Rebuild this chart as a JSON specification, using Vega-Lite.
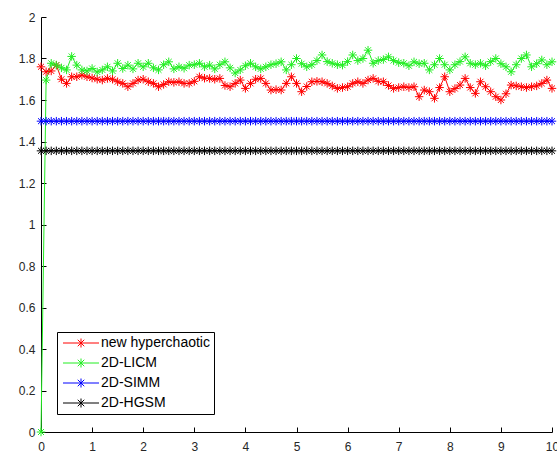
{
"$schema": "https://vega.github.io/schema/vega-lite/v6.json",
"width": 511, "height": 415,
"autosize": {"type": "none"},
"padding": {"left": 41, "top": 17, "right": 5, "bottom": 21},
"background": "white",
"config": {
 "view": {"stroke": null},
 "axis": {"domainColor": "#000000", "domainWidth": 1, "tickColor": "#000000", "tickSize": -5, "labelFont": "Liberation Sans", "labelFontSize": 12, "labelColor": "#262626", "grid": false, "title": null},
 "legend": {"orient": "none", "legendX": 16, "legendY": 315, "padding": 4, "strokeColor": "#000000", "fillColor": "#ffffff", "labelFont": "Liberation Sans", "labelFontSize": 14, "labelColor": "#000000", "rowPadding": 6, "symbolStrokeWidth": 1, "symbolOffset": 13, "labelOffset": 13, "symbolFillColor": "transparent", "cornerRadius": 0, "labelLimit": 300}
},
"data": {"values": [
{"x":0,"series":"new hyperchaotic","y":1.76},{"x":0.1,"series":"new hyperchaotic","y":1.736},{"x":0.2,"series":"new hyperchaotic","y":1.74},{"x":0.3,"series":"new hyperchaotic","y":1.768},{"x":0.4,"series":"new hyperchaotic","y":1.7},{"x":0.5,"series":"new hyperchaotic","y":1.68},{"x":0.6,"series":"new hyperchaotic","y":1.712},{"x":0.7,"series":"new hyperchaotic","y":1.712},{"x":0.8,"series":"new hyperchaotic","y":1.72},{"x":0.9,"series":"new hyperchaotic","y":1.712},
{"x":1,"series":"new hyperchaotic","y":1.706},{"x":1.1,"series":"new hyperchaotic","y":1.7},{"x":1.2,"series":"new hyperchaotic","y":1.696},{"x":1.3,"series":"new hyperchaotic","y":1.704},{"x":1.4,"series":"new hyperchaotic","y":1.7},{"x":1.5,"series":"new hyperchaotic","y":1.688},{"x":1.6,"series":"new hyperchaotic","y":1.68},{"x":1.7,"series":"new hyperchaotic","y":1.664},{"x":1.8,"series":"new hyperchaotic","y":1.68},{"x":1.9,"series":"new hyperchaotic","y":1.696},
{"x":2,"series":"new hyperchaotic","y":1.7},{"x":2.1,"series":"new hyperchaotic","y":1.688},{"x":2.2,"series":"new hyperchaotic","y":1.68},{"x":2.3,"series":"new hyperchaotic","y":1.664},{"x":2.4,"series":"new hyperchaotic","y":1.675},{"x":2.5,"series":"new hyperchaotic","y":1.688},{"x":2.6,"series":"new hyperchaotic","y":1.685},{"x":2.7,"series":"new hyperchaotic","y":1.688},{"x":2.8,"series":"new hyperchaotic","y":1.68},{"x":2.9,"series":"new hyperchaotic","y":1.68},
{"x":3,"series":"new hyperchaotic","y":1.69},{"x":3.1,"series":"new hyperchaotic","y":1.712},{"x":3.2,"series":"new hyperchaotic","y":1.705},{"x":3.3,"series":"new hyperchaotic","y":1.704},{"x":3.4,"series":"new hyperchaotic","y":1.7},{"x":3.5,"series":"new hyperchaotic","y":1.704},{"x":3.6,"series":"new hyperchaotic","y":1.67},{"x":3.7,"series":"new hyperchaotic","y":1.664},{"x":3.8,"series":"new hyperchaotic","y":1.68},{"x":3.9,"series":"new hyperchaotic","y":1.696},
{"x":4,"series":"new hyperchaotic","y":1.656},{"x":4.1,"series":"new hyperchaotic","y":1.68},{"x":4.2,"series":"new hyperchaotic","y":1.7},{"x":4.3,"series":"new hyperchaotic","y":1.704},{"x":4.4,"series":"new hyperchaotic","y":1.68},{"x":4.5,"series":"new hyperchaotic","y":1.648},{"x":4.6,"series":"new hyperchaotic","y":1.65},{"x":4.7,"series":"new hyperchaotic","y":1.648},{"x":4.8,"series":"new hyperchaotic","y":1.68},{"x":4.9,"series":"new hyperchaotic","y":1.712},
{"x":5,"series":"new hyperchaotic","y":1.68},{"x":5.1,"series":"new hyperchaotic","y":1.64},{"x":5.2,"series":"new hyperchaotic","y":1.665},{"x":5.3,"series":"new hyperchaotic","y":1.688},{"x":5.4,"series":"new hyperchaotic","y":1.69},{"x":5.5,"series":"new hyperchaotic","y":1.688},{"x":5.6,"series":"new hyperchaotic","y":1.68},{"x":5.7,"series":"new hyperchaotic","y":1.668},{"x":5.8,"series":"new hyperchaotic","y":1.656},{"x":5.9,"series":"new hyperchaotic","y":1.66},
{"x":6,"series":"new hyperchaotic","y":1.664},{"x":6.1,"series":"new hyperchaotic","y":1.68},{"x":6.2,"series":"new hyperchaotic","y":1.688},{"x":6.3,"series":"new hyperchaotic","y":1.68},{"x":6.4,"series":"new hyperchaotic","y":1.696},{"x":6.5,"series":"new hyperchaotic","y":1.704},{"x":6.6,"series":"new hyperchaotic","y":1.69},{"x":6.7,"series":"new hyperchaotic","y":1.688},{"x":6.8,"series":"new hyperchaotic","y":1.67},{"x":6.9,"series":"new hyperchaotic","y":1.656},
{"x":7,"series":"new hyperchaotic","y":1.66},{"x":7.1,"series":"new hyperchaotic","y":1.664},{"x":7.2,"series":"new hyperchaotic","y":1.66},{"x":7.3,"series":"new hyperchaotic","y":1.664},{"x":7.4,"series":"new hyperchaotic","y":1.616},{"x":7.5,"series":"new hyperchaotic","y":1.648},{"x":7.6,"series":"new hyperchaotic","y":1.64},{"x":7.7,"series":"new hyperchaotic","y":1.608},{"x":7.8,"series":"new hyperchaotic","y":1.66},{"x":7.9,"series":"new hyperchaotic","y":1.712},
{"x":8,"series":"new hyperchaotic","y":1.64},{"x":8.1,"series":"new hyperchaotic","y":1.655},{"x":8.2,"series":"new hyperchaotic","y":1.672},{"x":8.3,"series":"new hyperchaotic","y":1.704},{"x":8.4,"series":"new hyperchaotic","y":1.66},{"x":8.5,"series":"new hyperchaotic","y":1.632},{"x":8.6,"series":"new hyperchaotic","y":1.688},{"x":8.7,"series":"new hyperchaotic","y":1.664},{"x":8.8,"series":"new hyperchaotic","y":1.64},{"x":8.9,"series":"new hyperchaotic","y":1.616},
{"x":9,"series":"new hyperchaotic","y":1.6},{"x":9.1,"series":"new hyperchaotic","y":1.63},{"x":9.2,"series":"new hyperchaotic","y":1.672},{"x":9.3,"series":"new hyperchaotic","y":1.668},{"x":9.4,"series":"new hyperchaotic","y":1.664},{"x":9.5,"series":"new hyperchaotic","y":1.66},{"x":9.6,"series":"new hyperchaotic","y":1.664},{"x":9.7,"series":"new hyperchaotic","y":1.668},{"x":9.8,"series":"new hyperchaotic","y":1.68},{"x":9.9,"series":"new hyperchaotic","y":1.696},{"x":10,"series":"new hyperchaotic","y":1.656},
{"x":0,"series":"2D-LICM","y":0},{"x":0.1,"series":"2D-LICM","y":1.696},{"x":0.2,"series":"2D-LICM","y":1.777},{"x":0.3,"series":"2D-LICM","y":1.768},{"x":0.4,"series":"2D-LICM","y":1.755},{"x":0.5,"series":"2D-LICM","y":1.745},{"x":0.6,"series":"2D-LICM","y":1.81},{"x":0.7,"series":"2D-LICM","y":1.768},{"x":0.8,"series":"2D-LICM","y":1.745},{"x":0.9,"series":"2D-LICM","y":1.74},
{"x":1,"series":"2D-LICM","y":1.752},{"x":1.1,"series":"2D-LICM","y":1.735},{"x":1.2,"series":"2D-LICM","y":1.745},{"x":1.3,"series":"2D-LICM","y":1.76},{"x":1.4,"series":"2D-LICM","y":1.74},{"x":1.5,"series":"2D-LICM","y":1.777},{"x":1.6,"series":"2D-LICM","y":1.752},{"x":1.7,"series":"2D-LICM","y":1.768},{"x":1.8,"series":"2D-LICM","y":1.75},{"x":1.9,"series":"2D-LICM","y":1.777},
{"x":2,"series":"2D-LICM","y":1.76},{"x":2.1,"series":"2D-LICM","y":1.777},{"x":2.2,"series":"2D-LICM","y":1.755},{"x":2.3,"series":"2D-LICM","y":1.745},{"x":2.4,"series":"2D-LICM","y":1.77},{"x":2.5,"series":"2D-LICM","y":1.784},{"x":2.6,"series":"2D-LICM","y":1.75},{"x":2.7,"series":"2D-LICM","y":1.76},{"x":2.8,"series":"2D-LICM","y":1.753},{"x":2.9,"series":"2D-LICM","y":1.768},
{"x":3,"series":"2D-LICM","y":1.77},{"x":3.1,"series":"2D-LICM","y":1.777},{"x":3.2,"series":"2D-LICM","y":1.76},{"x":3.3,"series":"2D-LICM","y":1.768},{"x":3.4,"series":"2D-LICM","y":1.75},{"x":3.5,"series":"2D-LICM","y":1.77},{"x":3.6,"series":"2D-LICM","y":1.784},{"x":3.7,"series":"2D-LICM","y":1.755},{"x":3.8,"series":"2D-LICM","y":1.73},{"x":3.9,"series":"2D-LICM","y":1.745},
{"x":4,"series":"2D-LICM","y":1.765},{"x":4.1,"series":"2D-LICM","y":1.777},{"x":4.2,"series":"2D-LICM","y":1.76},{"x":4.3,"series":"2D-LICM","y":1.75},{"x":4.4,"series":"2D-LICM","y":1.76},{"x":4.5,"series":"2D-LICM","y":1.77},{"x":4.6,"series":"2D-LICM","y":1.775},{"x":4.7,"series":"2D-LICM","y":1.784},{"x":4.8,"series":"2D-LICM","y":1.745},{"x":4.9,"series":"2D-LICM","y":1.77},
{"x":5,"series":"2D-LICM","y":1.8},{"x":5.1,"series":"2D-LICM","y":1.775},{"x":5.2,"series":"2D-LICM","y":1.76},{"x":5.3,"series":"2D-LICM","y":1.77},{"x":5.4,"series":"2D-LICM","y":1.79},{"x":5.5,"series":"2D-LICM","y":1.817},{"x":5.6,"series":"2D-LICM","y":1.785},{"x":5.7,"series":"2D-LICM","y":1.777},{"x":5.8,"series":"2D-LICM","y":1.77},{"x":5.9,"series":"2D-LICM","y":1.768},
{"x":6,"series":"2D-LICM","y":1.785},{"x":6.1,"series":"2D-LICM","y":1.817},{"x":6.2,"series":"2D-LICM","y":1.79},{"x":6.3,"series":"2D-LICM","y":1.8},{"x":6.4,"series":"2D-LICM","y":1.84},{"x":6.5,"series":"2D-LICM","y":1.777},{"x":6.6,"series":"2D-LICM","y":1.79},{"x":6.7,"series":"2D-LICM","y":1.795},{"x":6.8,"series":"2D-LICM","y":1.808},{"x":6.9,"series":"2D-LICM","y":1.79},
{"x":7,"series":"2D-LICM","y":1.78},{"x":7.1,"series":"2D-LICM","y":1.777},{"x":7.2,"series":"2D-LICM","y":1.765},{"x":7.3,"series":"2D-LICM","y":1.784},{"x":7.4,"series":"2D-LICM","y":1.775},{"x":7.5,"series":"2D-LICM","y":1.777},{"x":7.6,"series":"2D-LICM","y":1.745},{"x":7.7,"series":"2D-LICM","y":1.77},{"x":7.8,"series":"2D-LICM","y":1.8},{"x":7.9,"series":"2D-LICM","y":1.77},
{"x":8,"series":"2D-LICM","y":1.745},{"x":8.1,"series":"2D-LICM","y":1.77},{"x":8.2,"series":"2D-LICM","y":1.785},{"x":8.3,"series":"2D-LICM","y":1.808},{"x":8.4,"series":"2D-LICM","y":1.777},{"x":8.5,"series":"2D-LICM","y":1.77},{"x":8.6,"series":"2D-LICM","y":1.777},{"x":8.7,"series":"2D-LICM","y":1.765},{"x":8.8,"series":"2D-LICM","y":1.785},{"x":8.9,"series":"2D-LICM","y":1.8},
{"x":9,"series":"2D-LICM","y":1.775},{"x":9.1,"series":"2D-LICM","y":1.76},{"x":9.2,"series":"2D-LICM","y":1.736},{"x":9.3,"series":"2D-LICM","y":1.77},{"x":9.4,"series":"2D-LICM","y":1.8},{"x":9.5,"series":"2D-LICM","y":1.817},{"x":9.6,"series":"2D-LICM","y":1.76},{"x":9.7,"series":"2D-LICM","y":1.775},{"x":9.8,"series":"2D-LICM","y":1.793},{"x":9.9,"series":"2D-LICM","y":1.77},{"x":10,"series":"2D-LICM","y":1.784},
{"x":0,"series":"2D-SIMM","y":1.498},{"x":0.1,"series":"2D-SIMM","y":1.498},{"x":0.2,"series":"2D-SIMM","y":1.498},{"x":0.3,"series":"2D-SIMM","y":1.498},{"x":0.4,"series":"2D-SIMM","y":1.498},{"x":0.5,"series":"2D-SIMM","y":1.498},{"x":0.6,"series":"2D-SIMM","y":1.498},{"x":0.7,"series":"2D-SIMM","y":1.498},{"x":0.8,"series":"2D-SIMM","y":1.498},{"x":0.9,"series":"2D-SIMM","y":1.498},
{"x":1,"series":"2D-SIMM","y":1.498},{"x":1.1,"series":"2D-SIMM","y":1.498},{"x":1.2,"series":"2D-SIMM","y":1.498},{"x":1.3,"series":"2D-SIMM","y":1.498},{"x":1.4,"series":"2D-SIMM","y":1.498},{"x":1.5,"series":"2D-SIMM","y":1.498},{"x":1.6,"series":"2D-SIMM","y":1.498},{"x":1.7,"series":"2D-SIMM","y":1.498},{"x":1.8,"series":"2D-SIMM","y":1.498},{"x":1.9,"series":"2D-SIMM","y":1.498},
{"x":2,"series":"2D-SIMM","y":1.498},{"x":2.1,"series":"2D-SIMM","y":1.498},{"x":2.2,"series":"2D-SIMM","y":1.498},{"x":2.3,"series":"2D-SIMM","y":1.498},{"x":2.4,"series":"2D-SIMM","y":1.498},{"x":2.5,"series":"2D-SIMM","y":1.498},{"x":2.6,"series":"2D-SIMM","y":1.498},{"x":2.7,"series":"2D-SIMM","y":1.498},{"x":2.8,"series":"2D-SIMM","y":1.498},{"x":2.9,"series":"2D-SIMM","y":1.498},
{"x":3,"series":"2D-SIMM","y":1.498},{"x":3.1,"series":"2D-SIMM","y":1.498},{"x":3.2,"series":"2D-SIMM","y":1.498},{"x":3.3,"series":"2D-SIMM","y":1.498},{"x":3.4,"series":"2D-SIMM","y":1.498},{"x":3.5,"series":"2D-SIMM","y":1.498},{"x":3.6,"series":"2D-SIMM","y":1.498},{"x":3.7,"series":"2D-SIMM","y":1.498},{"x":3.8,"series":"2D-SIMM","y":1.498},{"x":3.9,"series":"2D-SIMM","y":1.498},
{"x":4,"series":"2D-SIMM","y":1.498},{"x":4.1,"series":"2D-SIMM","y":1.498},{"x":4.2,"series":"2D-SIMM","y":1.498},{"x":4.3,"series":"2D-SIMM","y":1.498},{"x":4.4,"series":"2D-SIMM","y":1.498},{"x":4.5,"series":"2D-SIMM","y":1.498},{"x":4.6,"series":"2D-SIMM","y":1.498},{"x":4.7,"series":"2D-SIMM","y":1.498},{"x":4.8,"series":"2D-SIMM","y":1.498},{"x":4.9,"series":"2D-SIMM","y":1.498},
{"x":5,"series":"2D-SIMM","y":1.498},{"x":5.1,"series":"2D-SIMM","y":1.498},{"x":5.2,"series":"2D-SIMM","y":1.498},{"x":5.3,"series":"2D-SIMM","y":1.498},{"x":5.4,"series":"2D-SIMM","y":1.498},{"x":5.5,"series":"2D-SIMM","y":1.498},{"x":5.6,"series":"2D-SIMM","y":1.498},{"x":5.7,"series":"2D-SIMM","y":1.498},{"x":5.8,"series":"2D-SIMM","y":1.498},{"x":5.9,"series":"2D-SIMM","y":1.498},
{"x":6,"series":"2D-SIMM","y":1.498},{"x":6.1,"series":"2D-SIMM","y":1.498},{"x":6.2,"series":"2D-SIMM","y":1.498},{"x":6.3,"series":"2D-SIMM","y":1.498},{"x":6.4,"series":"2D-SIMM","y":1.498},{"x":6.5,"series":"2D-SIMM","y":1.498},{"x":6.6,"series":"2D-SIMM","y":1.498},{"x":6.7,"series":"2D-SIMM","y":1.498},{"x":6.8,"series":"2D-SIMM","y":1.498},{"x":6.9,"series":"2D-SIMM","y":1.498},
{"x":7,"series":"2D-SIMM","y":1.498},{"x":7.1,"series":"2D-SIMM","y":1.498},{"x":7.2,"series":"2D-SIMM","y":1.498},{"x":7.3,"series":"2D-SIMM","y":1.498},{"x":7.4,"series":"2D-SIMM","y":1.498},{"x":7.5,"series":"2D-SIMM","y":1.498},{"x":7.6,"series":"2D-SIMM","y":1.498},{"x":7.7,"series":"2D-SIMM","y":1.498},{"x":7.8,"series":"2D-SIMM","y":1.498},{"x":7.9,"series":"2D-SIMM","y":1.498},
{"x":8,"series":"2D-SIMM","y":1.498},{"x":8.1,"series":"2D-SIMM","y":1.498},{"x":8.2,"series":"2D-SIMM","y":1.498},{"x":8.3,"series":"2D-SIMM","y":1.498},{"x":8.4,"series":"2D-SIMM","y":1.498},{"x":8.5,"series":"2D-SIMM","y":1.498},{"x":8.6,"series":"2D-SIMM","y":1.498},{"x":8.7,"series":"2D-SIMM","y":1.498},{"x":8.8,"series":"2D-SIMM","y":1.498},{"x":8.9,"series":"2D-SIMM","y":1.498},
{"x":9,"series":"2D-SIMM","y":1.498},{"x":9.1,"series":"2D-SIMM","y":1.498},{"x":9.2,"series":"2D-SIMM","y":1.498},{"x":9.3,"series":"2D-SIMM","y":1.498},{"x":9.4,"series":"2D-SIMM","y":1.498},{"x":9.5,"series":"2D-SIMM","y":1.498},{"x":9.6,"series":"2D-SIMM","y":1.498},{"x":9.7,"series":"2D-SIMM","y":1.498},{"x":9.8,"series":"2D-SIMM","y":1.498},{"x":9.9,"series":"2D-SIMM","y":1.498},{"x":10,"series":"2D-SIMM","y":1.498},
{"x":0,"series":"2D-HGSM","y":1.355},{"x":0.1,"series":"2D-HGSM","y":1.355},{"x":0.2,"series":"2D-HGSM","y":1.355},{"x":0.3,"series":"2D-HGSM","y":1.355},{"x":0.4,"series":"2D-HGSM","y":1.355},{"x":0.5,"series":"2D-HGSM","y":1.355},{"x":0.6,"series":"2D-HGSM","y":1.355},{"x":0.7,"series":"2D-HGSM","y":1.355},{"x":0.8,"series":"2D-HGSM","y":1.355},{"x":0.9,"series":"2D-HGSM","y":1.355},
{"x":1,"series":"2D-HGSM","y":1.355},{"x":1.1,"series":"2D-HGSM","y":1.355},{"x":1.2,"series":"2D-HGSM","y":1.355},{"x":1.3,"series":"2D-HGSM","y":1.355},{"x":1.4,"series":"2D-HGSM","y":1.355},{"x":1.5,"series":"2D-HGSM","y":1.355},{"x":1.6,"series":"2D-HGSM","y":1.355},{"x":1.7,"series":"2D-HGSM","y":1.355},{"x":1.8,"series":"2D-HGSM","y":1.355},{"x":1.9,"series":"2D-HGSM","y":1.355},
{"x":2,"series":"2D-HGSM","y":1.355},{"x":2.1,"series":"2D-HGSM","y":1.355},{"x":2.2,"series":"2D-HGSM","y":1.355},{"x":2.3,"series":"2D-HGSM","y":1.355},{"x":2.4,"series":"2D-HGSM","y":1.355},{"x":2.5,"series":"2D-HGSM","y":1.355},{"x":2.6,"series":"2D-HGSM","y":1.355},{"x":2.7,"series":"2D-HGSM","y":1.355},{"x":2.8,"series":"2D-HGSM","y":1.355},{"x":2.9,"series":"2D-HGSM","y":1.355},
{"x":3,"series":"2D-HGSM","y":1.355},{"x":3.1,"series":"2D-HGSM","y":1.355},{"x":3.2,"series":"2D-HGSM","y":1.355},{"x":3.3,"series":"2D-HGSM","y":1.355},{"x":3.4,"series":"2D-HGSM","y":1.355},{"x":3.5,"series":"2D-HGSM","y":1.355},{"x":3.6,"series":"2D-HGSM","y":1.355},{"x":3.7,"series":"2D-HGSM","y":1.355},{"x":3.8,"series":"2D-HGSM","y":1.355},{"x":3.9,"series":"2D-HGSM","y":1.355},
{"x":4,"series":"2D-HGSM","y":1.355},{"x":4.1,"series":"2D-HGSM","y":1.355},{"x":4.2,"series":"2D-HGSM","y":1.355},{"x":4.3,"series":"2D-HGSM","y":1.355},{"x":4.4,"series":"2D-HGSM","y":1.355},{"x":4.5,"series":"2D-HGSM","y":1.355},{"x":4.6,"series":"2D-HGSM","y":1.355},{"x":4.7,"series":"2D-HGSM","y":1.355},{"x":4.8,"series":"2D-HGSM","y":1.355},{"x":4.9,"series":"2D-HGSM","y":1.355},
{"x":5,"series":"2D-HGSM","y":1.355},{"x":5.1,"series":"2D-HGSM","y":1.355},{"x":5.2,"series":"2D-HGSM","y":1.355},{"x":5.3,"series":"2D-HGSM","y":1.355},{"x":5.4,"series":"2D-HGSM","y":1.355},{"x":5.5,"series":"2D-HGSM","y":1.355},{"x":5.6,"series":"2D-HGSM","y":1.355},{"x":5.7,"series":"2D-HGSM","y":1.355},{"x":5.8,"series":"2D-HGSM","y":1.355},{"x":5.9,"series":"2D-HGSM","y":1.355},
{"x":6,"series":"2D-HGSM","y":1.355},{"x":6.1,"series":"2D-HGSM","y":1.355},{"x":6.2,"series":"2D-HGSM","y":1.355},{"x":6.3,"series":"2D-HGSM","y":1.355},{"x":6.4,"series":"2D-HGSM","y":1.355},{"x":6.5,"series":"2D-HGSM","y":1.355},{"x":6.6,"series":"2D-HGSM","y":1.355},{"x":6.7,"series":"2D-HGSM","y":1.355},{"x":6.8,"series":"2D-HGSM","y":1.355},{"x":6.9,"series":"2D-HGSM","y":1.355},
{"x":7,"series":"2D-HGSM","y":1.355},{"x":7.1,"series":"2D-HGSM","y":1.355},{"x":7.2,"series":"2D-HGSM","y":1.355},{"x":7.3,"series":"2D-HGSM","y":1.355},{"x":7.4,"series":"2D-HGSM","y":1.355},{"x":7.5,"series":"2D-HGSM","y":1.355},{"x":7.6,"series":"2D-HGSM","y":1.355},{"x":7.7,"series":"2D-HGSM","y":1.355},{"x":7.8,"series":"2D-HGSM","y":1.355},{"x":7.9,"series":"2D-HGSM","y":1.355},
{"x":8,"series":"2D-HGSM","y":1.355},{"x":8.1,"series":"2D-HGSM","y":1.355},{"x":8.2,"series":"2D-HGSM","y":1.355},{"x":8.3,"series":"2D-HGSM","y":1.355},{"x":8.4,"series":"2D-HGSM","y":1.355},{"x":8.5,"series":"2D-HGSM","y":1.355},{"x":8.6,"series":"2D-HGSM","y":1.355},{"x":8.7,"series":"2D-HGSM","y":1.355},{"x":8.8,"series":"2D-HGSM","y":1.355},{"x":8.9,"series":"2D-HGSM","y":1.355},
{"x":9,"series":"2D-HGSM","y":1.355},{"x":9.1,"series":"2D-HGSM","y":1.355},{"x":9.2,"series":"2D-HGSM","y":1.355},{"x":9.3,"series":"2D-HGSM","y":1.355},{"x":9.4,"series":"2D-HGSM","y":1.355},{"x":9.5,"series":"2D-HGSM","y":1.355},{"x":9.6,"series":"2D-HGSM","y":1.355},{"x":9.7,"series":"2D-HGSM","y":1.355},{"x":9.8,"series":"2D-HGSM","y":1.355},{"x":9.9,"series":"2D-HGSM","y":1.355},{"x":10,"series":"2D-HGSM","y":1.355}
]},
"encoding": {
 "x": {"field": "x", "type": "quantitative", "scale": {"domain": [0, 10], "nice": false, "zero": false}, "axis": {"values": [0,1,2,3,4,5,6,7,8,9,10], "format": "d", "labelPadding": 14, "labelFlush": false}},
 "y": {"field": "y", "type": "quantitative", "scale": {"domain": [0, 2], "nice": false}, "axis": {"values": [0,0.2,0.4,0.6,0.8,1,1.2,1.4,1.6,1.8,2], "format": "~g", "labelPadding": 11, "labelFlush": false}},
 "color": {"field": "series", "type": "nominal", "scale": {"domain": ["new hyperchaotic", "2D-LICM", "2D-SIMM", "2D-HGSM"], "range": ["#ff0000", "#22ee22", "#0000ff", "#000000"]}, "legend": {"title": null, "symbolType": "M-3.6,0L3.6,0M0,-0.9L0,0.9M-0.65,-0.65L0.65,0.65M-0.65,0.65L0.65,-0.65", "symbolSize": 100, "labelExpr": "datum.label + '        '"}}
},
"layer": [
 {"mark": {"type": "line", "strokeWidth": 1, "clip": false}},
 {"mark": {"type": "point", "shape": "M-1,0L1,0M0,-1L0,1M-0.7,-0.7L0.7,0.7M-0.7,0.7L0.7,-0.7", "size": 72, "strokeWidth": 1, "filled": false, "opacity": 1, "clip": false}}
]
}
